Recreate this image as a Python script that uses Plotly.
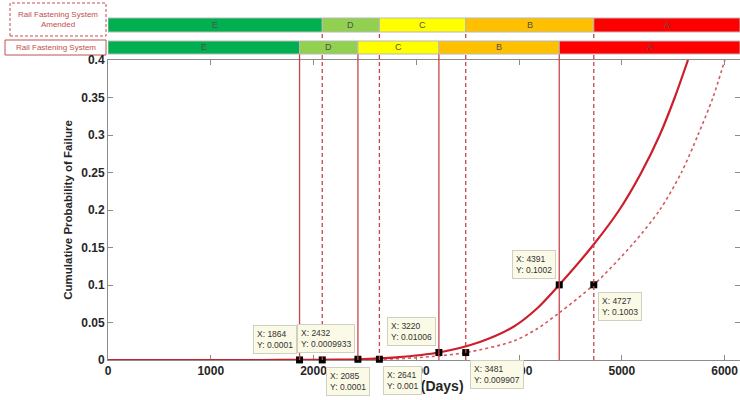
import plotly.graph_objects as go

# Cumulative probability of failure vs time for the original fastening system
base_days = [0, 1000, 1500, 1864, 2200, 2432, 2800, 3220, 3618, 3942, 4169, 4391,
             4720, 4975, 5190, 5369, 5515, 5644]
base_prob = [0, 0, 0.00001, 0.0001, 0.0004, 0.0009933, 0.0035, 0.01006, 0.024, 0.044,
             0.068, 0.1002, 0.153, 0.2, 0.25, 0.3, 0.35, 0.4]

# Same curve for the amended fastening system
amended_days = [0, 1000, 1700, 2085, 2400, 2641, 3000, 3481, 3942, 4169, 4391, 4727,
                5109, 5369, 5580, 5741, 5887, 6002]
amended_prob = [0, 0, 0.00001, 0.0001, 0.0004, 0.001, 0.003, 0.009907, 0.025, 0.041,
                0.063, 0.1003, 0.155, 0.2, 0.25, 0.3, 0.35, 0.4]

# Grade thresholds (E -> D -> C -> B -> A) reached by each curve
grades = ["E", "D", "C", "B", "A"]
grade_colors = ["#00b050", "#92d050", "#ffff00", "#ffc000", "#ff0000"]
base_thresh_days = [1864, 2432, 3220, 4391]
base_thresh_prob = [0.0001, 0.0009933, 0.01006, 0.1002]
amended_thresh_days = [2085, 2641, 3481, 4727]
amended_thresh_prob = [0.0001, 0.001, 0.009907, 0.1003]

x_ticks = [0, 1000, 2000, 3000, 4000, 5000, 6000]
y_ticks = [0, 0.05, 0.1, 0.15, 0.2, 0.25, 0.3, 0.35, 0.4]
y_tick_labels = ["0", "0.05", "0.1", "0.15", "0.2", "0.25", "0.3", "0.35", "0.4"]

X_MAX = 6150
W, H = 740, 400
ML, MR, MT, MB = 108, 0, 60, 40
PW, PH = W - ML - MR, H - MT - MB


def px_x(px):
    return (px - ML) / PW


def px_y(py):
    return (H - MB - py) / PH


RED = "#cc1f2b"
LINE_RED = "#c8444a"
LABEL_RED = "#c0504d"
FONT = "Arial, Liberation Sans, sans-serif"

fig = go.Figure()

fig.add_trace(go.Scatter(x=amended_days, y=amended_prob, mode="lines",
                         line=dict(color="#d25a5e", width=1.6, dash="dot", shape="spline",
                                   smoothing=0.8),
                         showlegend=False, hoverinfo="skip"))
fig.add_trace(go.Scatter(x=base_days, y=base_prob, mode="lines",
                         line=dict(color=RED, width=2.2, shape="spline", smoothing=0.8),
                         showlegend=False, hoverinfo="skip"))

shapes = []
annotations = []

# Vertical threshold lines
for d in base_thresh_days:
    shapes.append(dict(type="line", xref="x", yref="paper", x0=d, x1=d,
                       y0=0, y1=px_y(54), line=dict(color=LINE_RED, width=1.3)))
for d in amended_thresh_days:
    shapes.append(dict(type="line", xref="x", yref="paper", x0=d, x1=d,
                       y0=0, y1=px_y(32), line=dict(color=LINE_RED, width=1.3, dash="4px,3px")))


# Grade bars above the plot
def grade_bar(bounds, y_top, y_bot):
    edges = [0] + bounds + [X_MAX]
    for i, g in enumerate(grades):
        shapes.append(dict(type="rect", xref="x", yref="paper",
                           x0=edges[i], x1=edges[i + 1], y0=px_y(y_bot), y1=px_y(y_top),
                           fillcolor=grade_colors[i], line=dict(color="#b8b8b8", width=1)))
        annotations.append(dict(x=(edges[i] + edges[i + 1]) / 2, y=px_y((y_top + y_bot) / 2),
                                xref="x", yref="paper", text=g, showarrow=False,
                                xanchor="center", yanchor="middle",
                                font=dict(family=FONT, size=9, color="#505050")))


grade_bar(amended_thresh_days, 18, 32)
grade_bar(base_thresh_days, 41, 54)

# Series labels on the left of the bars
shapes.append(dict(type="rect", xref="paper", yref="paper",
                   x0=px_x(10), x1=px_x(106), y0=px_y(36), y1=px_y(3),
                   line=dict(color=LABEL_RED, width=1, dash="3px,2px"), fillcolor="white",
                   layer="below"))
annotations.append(dict(x=px_x(58), y=px_y(19.5), xref="paper", yref="paper",
                        text="Rail Fastening System<br>Amended", showarrow=False,
                        xanchor="center", yanchor="middle",
                        font=dict(family=FONT, size=8, color=LABEL_RED)))
shapes.append(dict(type="rect", xref="paper", yref="paper",
                   x0=px_x(5), x1=px_x(106), y0=px_y(55), y1=px_y(40),
                   line=dict(color=LABEL_RED, width=1), fillcolor="white", layer="below"))
annotations.append(dict(x=px_x(55.5), y=px_y(47.5), xref="paper", yref="paper",
                        text="Rail Fastening System", showarrow=False,
                        xanchor="center", yanchor="middle",
                        font=dict(family=FONT, size=8, color=LABEL_RED)))


# Data tips at each threshold
def data_tip(d, p, above_left):
    if above_left:
        pos = dict(xanchor="right", yanchor="bottom", xshift=-3, yshift=6)
    else:
        pos = dict(xanchor="left", yanchor="top", xshift=4, yshift=-7)
    annotations.append(dict(x=d, y=p, xref="x", yref="y", text=f"X: {d}<br>Y: {p:g}",
                            showarrow=False, align="left", bgcolor="#fafae6",
                            bordercolor="#d0d0c0", borderwidth=1, borderpad=3,
                            font=dict(family=FONT, size=8.5, color="#333333"), **pos))


for d, p in zip(base_thresh_days, base_thresh_prob):
    data_tip(d, p, True)
for d, p in zip(amended_thresh_days, amended_thresh_prob):
    data_tip(d, p, False)

fig.add_trace(go.Scatter(x=base_thresh_days + amended_thresh_days,
                         y=base_thresh_prob + amended_thresh_prob, mode="markers",
                         marker=dict(symbol="square", size=7, color="black"),
                         cliponaxis=False, showlegend=False, hoverinfo="skip"))

axis_common = dict(showline=True, linecolor="#8c8c8c", linewidth=1, mirror="ticks",
                   ticks="inside", ticklen=5, tickcolor="#8c8c8c", showgrid=False,
                   zeroline=False, layer="below traces",
                   tickfont=dict(family=FONT, size=12, color="#262626", weight="bold"))

fig.update_layout(
    width=W, height=H,
    margin=dict(l=ML, r=MR, t=MT, b=MB, pad=0),
    paper_bgcolor="white", plot_bgcolor="white",
    shapes=shapes, annotations=annotations,
    xaxis=dict(range=[0, X_MAX], tickvals=x_ticks, **axis_common,
               title=dict(text="Time (Days)", standoff=0,
                          font=dict(family=FONT, size=14, color="#262626", weight="bold"))),
    yaxis=dict(range=[0, 0.4], tickvals=y_ticks, ticktext=y_tick_labels, **axis_common,
               title=dict(text="Cumulative Probability of Failure", standoff=6,
                          font=dict(family=FONT, size=11.5, color="#262626", weight="bold"))),
)

fig.write_html("out.html")
